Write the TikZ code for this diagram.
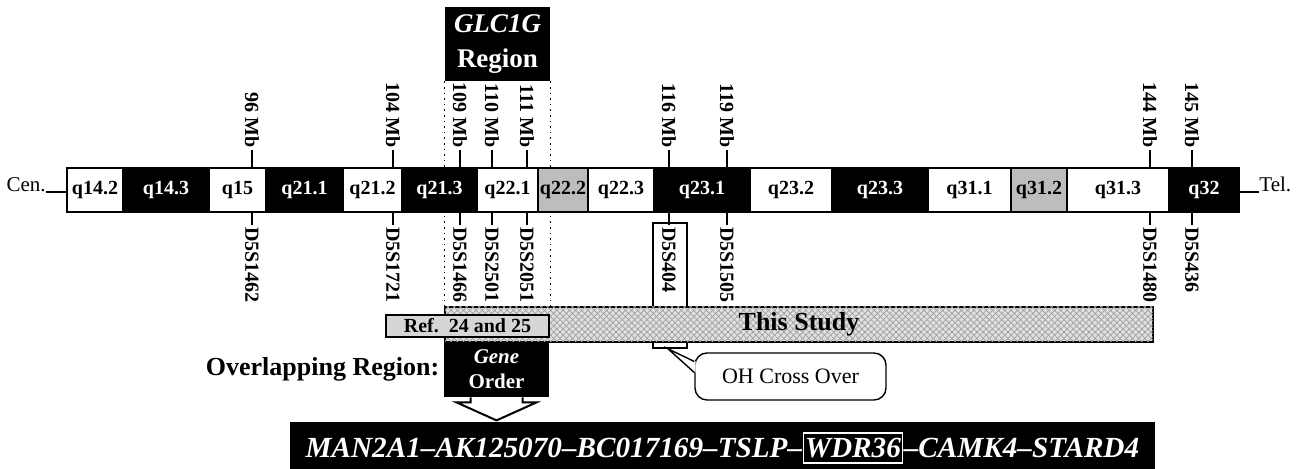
\documentclass[tikz,border=0pt]{standalone}
\usepackage{fontspec}
\setmainfont{Liberation Serif}
\usetikzlibrary{positioning,patterns.meta}

\definecolor{bandgray}{gray}{0.74}
\definecolor{reffill}{gray}{0.84}
\definecolor{studyfill}{gray}{0.88}

\begin{document}
\begin{tikzpicture}[x=0.5pt, y=-0.5pt, every node/.style={inner sep=0pt, font=\bfseries\fontsize{10}{12}\selectfont},
  wb/.style={draw, line width=0.6pt, fill=white, minimum height=22pt},
  bb/.style={draw, line width=0.6pt, fill=black, text=white, minimum height=22pt},
  gb/.style={draw, line width=0.6pt, fill=bandgray, minimum height=22pt},
  mlab/.style={rotate=-90, inner sep=1pt},
  tick/.style={line width=0.9pt},
  darkbox/.style={fill=black, text=white, align=center},
  studybar/.style={draw, line width=1pt, fill=studyfill,
    postaction={pattern={Lines[angle=45, distance=2.2pt, line width=0.35pt]}, pattern color=gray!75},
    postaction={pattern={Lines[angle=-45, distance=2.2pt, line width=0.35pt]}, pattern color=gray!75},
    font=\bfseries\fontsize{13}{15}\selectfont},
  refbox/.style={draw, line width=1pt, fill=reffill},
  ohbox/.style={draw, line width=0.7pt, fill=white, rounded corners=6pt, font=\fontsize{11}{13}\selectfont},
  genes/.style={text=white, font=\bfseries\itshape\fontsize{14.6}{18}\selectfont}]
  \useasboundingbox (0,0) rectangle (1297,469);

  % GLC1G window
  \node[darkbox, minimum width=52.5pt, minimum height=37pt, font=\bfseries\fontsize{13.5}{17.5}\selectfont] (glc) at (497.5,44) {\textit{GLC1G}\\Region};

  % boxed marker, study bar, reference
  \node[draw, line width=0.8pt, minimum width=17pt, minimum height=62.5pt] (d404) at (670,285.5) {};
  \node[studybar, minimum width=354pt, minimum height=17.5pt] (study) at (799,324.5) {This Study};
  \node[refbox, minimum width=81.5pt, minimum height=11pt] (ref) at (467.5,326) {Ref.\ \ 24 and 25};
  \node[darkbox, minimum width=52.5pt, minimum height=27.5pt, font=\bfseries\fontsize{10.5}{12.5}\selectfont] (gene) at (496.5,369.5) {\textit{Gene}\\Order};
  \node[left=2pt of gene, font=\bfseries\fontsize{13}{15}\selectfont] (overlap) {Overlapping Region:};

  \draw[dotted, line width=0.8pt] (glc.south west) -- (glc.south west |- study.north);
  \draw[dotted, line width=0.8pt] (glc.south east) -- (glc.south east |- study.north);

  % chromosome 5q bands
  \foreach \a/\b/\t/\s [count=\k] in {67/123/q14.2/wb, 123/209/q14.3/bb, 209/266/q15/wb, 266/343/q21.1/bb,
      343/402/q21.2/wb, 402/477/q21.3/bb, 477/538/q22.1/wb, 538/588/q22.2/gb, 588/654/q22.3/wb,
      654/750/q23.1/bb, 750/832/q23.2/wb, 832/928/q23.3/bb, 928/1011/q31.1/wb, 1011/1067/q31.2/gb,
      1067/1169/q31.3/wb, 1169/1239/q32/bb}
    \node[\s, minimum width={(\b-\a)*0.5pt}] (b\k) at ({(\a+\b)/2},190) {\t};

  \node[anchor=base east, font=\fontsize{10.5}{12}\selectfont] (cen) at (46,192) {Cen.};
  \node[anchor=base west, font=\fontsize{10.5}{12}\selectfont] (tel) at (1259,192) {Tel.};
  \draw[line width=0.6pt] (cen.base east) -- (cen.base east -| b1.west);
  \draw[line width=0.6pt] (tel.base west -| b16.east) -- (tel.base west);

  % markers
  \foreach \x/\mb/\dss [count=\k] in {252/96/D5S1462, 393/104/D5S1721, 460/109/D5S1466, 492/110/D5S2501,
      527/111/D5S2051, 669/116/D5S404, 727/119/D5S1505, 1150/144/D5S1480, 1192/145/D5S436} {
    \node[mlab, anchor=east] (mb\k) at (\x,150) {\mb~Mb};
    \draw[tick] (mb\k.east) -- (mb\k.east |- b1.north);
    \node[mlab, anchor=west] (ds\k) at (\x,225) {\dss};
    \draw[tick] (ds\k.west |- b1.south) -- (ds\k.west);
  }

  % callout
  \node[ohbox, minimum width=95.5pt, minimum height=23.5pt] (oh) at (790.5,376.5) {OH Cross Over};
  \fill[white] ([xshift=0.6pt, yshift=7.5pt]oh.west) -- (d404.south) -- ([xshift=0.6pt, yshift=2pt]oh.west) -- cycle;
  \draw[line width=0.7pt] ([yshift=7.5pt]oh.west) -- ([xshift=-1pt]d404.south) -- ([yshift=2pt]oh.west);

  % arrow down to the gene order
  \draw[line width=1pt, fill=white] (gene.south) ++(-26,0) -- ++(0,5) -- ++(-14,0) -- ++(40,18) -- ++(40,-18) -- ++(-14,0) -- ++(0,-5);

  \node[fill=black, minimum width=432.5pt, minimum height=23.5pt] (banner) at (722.5,445.5) {};
  \node[genes, draw=white, line width=0.6pt, inner xsep=1pt, minimum height=15pt] (wdr) at (853,448) {WDR36};
  \node[genes, base left=0pt of wdr] (genesl) {MAN2A1--AK125070--BC017169--TSLP--};
  \node[genes, base right=0pt of wdr] (genesr) {--CAMK4--STARD4};
\end{tikzpicture}
\end{document}
